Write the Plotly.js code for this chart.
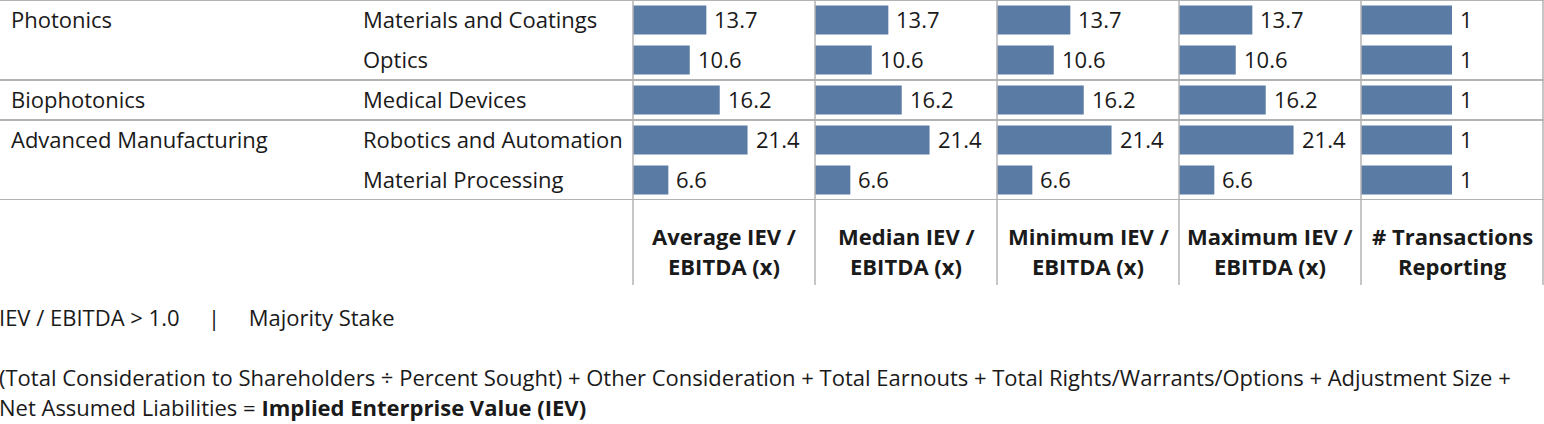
<!DOCTYPE html>
<html>
<head>
<meta charset="utf-8">
<script src="https://cdn.plot.ly/plotly-3.0.1.min.js"></script>
<style>
  html, body { margin: 0; padding: 0; background: #ffffff; }
  #chart { width: 1544px; height: 424px; }
</style>
</head>
<body>
<div id="chart"></div>
<script>
// ---------- data ----------
const groups        = ["Photonics", "Photonics", "Biophotonics", "Advanced Manufacturing", "Advanced Manufacturing"];
const subcategories = ["Materials and Coatings", "Optics", "Medical Devices", "Robotics and Automation", "Material Processing"];
const averageIEV    = [13.7, 10.6, 16.2, 21.4, 6.6];
const medianIEV     = [13.7, 10.6, 16.2, 21.4, 6.6];
const minimumIEV    = [13.7, 10.6, 16.2, 21.4, 6.6];
const maximumIEV    = [13.7, 10.6, 16.2, 21.4, 6.6];
const transactions  = [1, 1, 1, 1, 1];
const measureTitles = [
  ["Average IEV /", "EBITDA (x)"],
  ["Median IEV /", "EBITDA (x)"],
  ["Minimum IEV /", "EBITDA (x)"],
  ["Maximum IEV /", "EBITDA (x)"],
  ["# Transactions", "Reporting"]
];
const filterNote   = "IEV / EBITDA > 1.0\u00A0\u00A0\u00A0\u00A0\u00A0|\u00A0\u00A0\u00A0\u00A0\u00A0Majority Stake";
const formulaLine1 = "(Total Consideration to Shareholders \u00F7 Percent Sought) + Other Consideration + Total Earnouts + Total Rights/Warrants/Options + Adjustment Size +";
const formulaLine2 = "Net Assumed Liabilities = <b>Implied Enterprise Value (IEV)</b>";

// ---------- layout helpers ----------
const W = 1544, H = 424;
const px = v => v / W;
const py = v => 1 - v / H;
const FONT = "Open Sans, Noto Sans, sans-serif";
const FS = 22;
const TXT = "#1a1a1a";
const BAR = "#5a7ba3";
const LINE = "#b3b3b3";

const series = [averageIEV, medianIEV, minimumIEV, maximumIEV, transactions];
const ranges = [[0, 34], [0, 34], [0, 34], [0, 34], [0, 2]];
const panelEdges = [633, 815, 997, 1179, 1361, 1543];

const traces = [];
const annotations = [];
const layout = {
  width: W, height: H,
  margin: {l: 0, r: 0, t: 0, b: 0, pad: 0},
  paper_bgcolor: "#ffffff", plot_bgcolor: "#ffffff",
  showlegend: false,
  font: {family: FONT, size: FS, color: TXT},
  bargap: 0.28,
  yaxis: {
    type: "category",
    categoryorder: "array", categoryarray: subcategories,
    range: [4.5, -0.5],
    domain: [py(200), 1],
    showticklabels: false, showgrid: false, zeroline: false, showline: false,
    ticks: "", fixedrange: true
  },
  shapes: [],
  annotations: annotations
};

series.forEach((vals, i) => {
  const ax = i === 0 ? "x" : "x" + (i + 1);
  const axKey = i === 0 ? "xaxis" : "xaxis" + (i + 1);
  layout[axKey] = {
    domain: [px(panelEdges[i]), px(panelEdges[i + 1])],
    range: ranges[i],
    anchor: "y",
    showticklabels: false, showgrid: false, zeroline: false, showline: false,
    ticks: "", fixedrange: true
  };
  traces.push({
    type: "bar", orientation: "h",
    x: vals, y: subcategories,
    xaxis: ax, yaxis: "y",
    marker: {color: BAR, line: {width: 0}},
    hoverinfo: "x+y"
  });
  vals.forEach((v, r) => {
    annotations.push({
      xref: ax, yref: "y", x: v, y: subcategories[r],
      text: String(v), showarrow: false,
      xanchor: "left", yanchor: "middle", xshift: 6, yshift: 1,
      font: {family: FONT, size: FS, color: TXT}
    });
  });
  // column headers
  const cx = (panelEdges[i] + panelEdges[i + 1]) / 2;
  measureTitles[i].forEach((line, k) => {
    annotations.push({
      xref: "paper", yref: "paper", x: px(cx), y: py(235.5 + 30 * k),
      text: "<b>" + line + "</b>", showarrow: false,
      xanchor: "center", yanchor: "middle",
      font: {family: FONT, size: FS, color: TXT}
    });
  });
});

// row labels
subcategories.forEach((s, r) => {
  if (r === 0 || groups[r] !== groups[r - 1]) {
    annotations.push({
      xref: "paper", yref: "y", x: px(12), y: s, xshift: -3, yshift: 1,
      text: groups[r], showarrow: false, xanchor: "left", yanchor: "middle",
      font: {family: FONT, size: FS, color: TXT}
    });
  }
  annotations.push({
    xref: "paper", yref: "y", x: px(364), y: s, xshift: -3, yshift: 1,
    text: s, showarrow: false, xanchor: "left", yanchor: "middle",
    font: {family: FONT, size: FS, color: TXT}
  });
});

// footnotes
[[filterNote, 316.5], [formulaLine1, 376.5], [formulaLine2, 406.5]].forEach(([t, y]) => {
  annotations.push({
    xref: "paper", yref: "paper", x: 0, y: py(y), xshift: -3,
    text: t, showarrow: false, xanchor: "left", yanchor: "middle",
    font: {family: FONT, size: FS, color: TXT}
  });
});

// horizontal separators (between groups and at top/bottom)
const hLines = [-0.5];
subcategories.forEach((s, r) => {
  if (r > 0 && groups[r] !== groups[r - 1]) hLines.push(r - 0.5);
});
hLines.push(subcategories.length - 0.5);
hLines.forEach(yv => {
  layout.shapes.push({
    type: "line", xref: "paper", yref: "y",
    x0: 0, x1: 1, y0: yv, y1: yv,
    line: {color: LINE, width: 2}, layer: "above"
  });
});
// vertical separators
panelEdges.forEach(e => {
  layout.shapes.push({
    type: "line", xref: "paper", yref: "paper",
    x0: px(e), x1: px(e), y0: 1, y1: py(285),
    line: {color: LINE, width: 1.5}, layer: "above"
  });
});

Plotly.newPlot("chart", traces, layout, {displayModeBar: false, staticPlot: true});
</script>
</body>
</html>
